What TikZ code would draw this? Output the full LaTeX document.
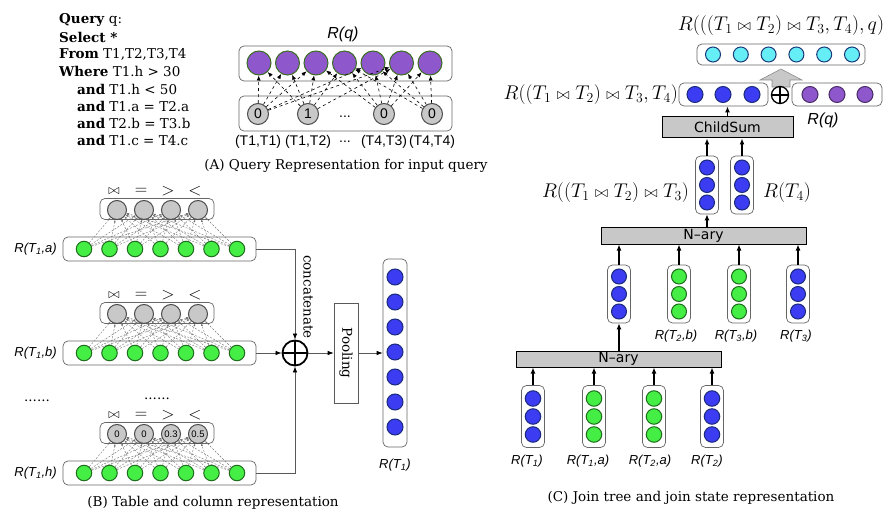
\documentclass[tikz,border=0pt]{standalone}
\usepackage[no-math]{fontspec}
\usepackage{graphicx}
\setmainfont{DejaVu Serif}
\setsansfont{Liberation Sans}
\newfontfamily\dvsans{DejaVu Sans}
\usetikzlibrary{arrows.meta}
\definecolor{cpurple}{HTML}{8F57CC}
\definecolor{cpurpleb}{HTML}{3B6E22}
\definecolor{cgray}{HTML}{C8C8C8}
\definecolor{cgreen}{HTML}{44EE44}
\definecolor{cgreenb}{HTML}{1E6E1E}
\definecolor{cblue}{HTML}{3C3CF2}
\definecolor{cblueb}{HTML}{1A2A7A}
\definecolor{ccyan}{HTML}{66EEF6}
\definecolor{ccyanb}{HTML}{1A3A7A}
\newcommand{\jn}{\mathrel{\scalebox{0.8}{$\bowtie$}}}
\newcommand{\mlab}[1]{\scalebox{0.957}{$#1$}}
\begin{document}
\begin{tikzpicture}[x=1pt,y=-1pt,
  rowbox/.style={draw=black!60, line width=0.7pt, rounded corners=5pt, fill=white, inner sep=0pt},
  nd/.style={circle, inner sep=0pt, line width=1pt},
  purp/.style={nd, fill=cpurple, draw=cpurpleb, minimum size=24pt},
  grayc/.style={nd, fill=cgray, draw=black!70, minimum size=21pt, font=\sffamily\fontsize{14}{14}\selectfont},
  greenc/.style={nd, fill=cgreen, draw=cgreenb, minimum size=15.5pt},
  bluec/.style={nd, fill=cblue, draw=cblueb, minimum size=16pt},
  cyanc/.style={nd, fill=ccyan, draw=ccyanb, minimum size=15pt},
  dasharr/.style={dashed, line width=0.6pt, -{Latex[length=5pt,width=4pt]}},
  thinarr/.style={dash pattern=on 2pt off 1.5pt, line width=0.4pt, draw=black!55, -{Latex[length=2.5pt,width=2pt]}},
  conn/.style={draw=black!65, line width=0.7pt, -{Latex[length=6pt,width=4.5pt,color=black]}},
  uparr/.style={line width=1.3pt, -{Latex[length=6pt,width=5pt]}},
  layer/.style={draw=black, line width=1pt, fill=cgray, font=\dvsans\fontsize{14}{14}\selectfont, inner sep=0pt},
  lab/.style={font=\sffamily\itshape\fontsize{13}{13}\selectfont, inner sep=0pt},
  bigl/.style={font=\sffamily\itshape\fontsize{16}{16}\selectfont, inner sep=0pt},
  tw/.style={font=\fontsize{13.5}{15}\selectfont, inner sep=0pt},
  qt/.style={font=\fontsize{13.5}{15}\selectfont, inner sep=0pt, anchor=west},
  sl/.style={font=\sffamily\fontsize{14}{14}\selectfont, inner sep=0pt},
  opl/.style={font=\fontsize{16}{16}\selectfont, inner sep=0pt},
  mathl/.style={font=\fontsize{20.74}{22}\selectfont, inner sep=0pt},
  oplus/.style={circle, draw, line width=1.8pt, minimum size=25pt, inner sep=0pt,
    path picture={\draw[line width=1.8pt] (path picture bounding box.north) -- (path picture bounding box.south)
      (path picture bounding box.west) -- (path picture bounding box.east);}},
]
\useasboundingbox (0,0) rectangle (895,524);

% ---------------- Panel A ----------------
\node[qt] (q1) at (59,20) {\textbf{Query} q:};
\node[qt] (q2) at (59,37) {\textbf{Select *}};
\node[qt] (q3) at (59,54) {\textbf{From} T1,T2,T3,T4};
\node[qt] (q4) at (59,71) {\textbf{Where} T1.h > 30};
\node[qt] (q5) at (77,89) {\textbf{and} T1.h < 50};
\node[qt] (q6) at (77,106) {\textbf{and} T1.a = T2.a};
\node[qt] (q7) at (77,123) {\textbf{and} T2.b = T3.b};
\node[qt] (q8) at (77,140) {\textbf{and} T1.c = T4.c};

\node[bigl] (Rq) at (343,34) {R(q)};
\node[rowbox, minimum width=213pt, minimum height=35pt] (Atop) at (345.5,63.5) {};
\foreach \i in {1,...,7} \node[purp] (At\i) at ({259+28.5*(\i-1)},63) {};
\node[rowbox, minimum width=213pt, minimum height=35pt] (Abot) at (345.5,113.5) {};
\foreach \i/\x/\v in {1/258/0,2/308/1,3/384/0,4/432/0} \node[grayc] (Ab\i) at (\x,114) {\v};
\node[sl] (Adots) at (345,117) {...};
\foreach \i/\x/\s in {1/258/{(T1,T1)},2/308/{(T1,T2)},3/345/{...},4/384/{(T4,T3)},5/432/{(T4,T4)}}
  \node[sl] (Al\i) at (\x,142) {\s};
\foreach \b/\t in {1/1,1/2,1/3,1/5,1/6,2/1,2/2,2/3,2/4,2/6,3/3,3/4,3/5,3/6,3/7,4/4,4/5,4/6,4/7}
  \draw[dasharr] (Ab\b) -- (At\t);
\node[tw] (capA) at (346,166) {(A) Query Representation for input query};

% ---------------- Panel B ----------------
\foreach \g/\G/\c/\va/\vb/\vc/\vd in {1/249/a/{}/{}/{}/{},2/353/b/{}/{}/{}/{},3/473/h/0/0/0.3/0.5} {
  \node[rowbox, minimum width=114pt, minimum height=21pt] (Bk\g) at (157,{\G-40}) {};
  \foreach \j/\v in {1/\va,2/\vb,3/\vc,4/\vd}
    \node[grayc, minimum size=19pt, font=\sffamily\fontsize{9.5}{9.5}\selectfont] (Bk\g c\j) at ({117+27*(\j-1)},{\G-39}) {\v};
  \foreach \j/\s in {1/\jn,2/=,3/>,4/<}
    \node[opl] (Bop\g c\j) at ({114+27*(\j-1)},{\G-58}) {$\s$};
  \node[rowbox, minimum width=193pt, minimum height=24pt] (Bg\g) at (159.5,\G) {};
  \foreach \i in {1,...,7} \node[greenc] (Bg\g c\i) at ({84+25.5*(\i-1)},\G) {};
  \foreach \i in {1,...,7} \foreach \j in {1,...,4} \draw[thinarr] (Bg\g c\i) -- (Bk\g c\j);
  \node[lab, anchor=east] (Bl\g) at (57,\G) {R(T\textsubscript{1},\c)};
}
\node[tw] (Bd1) at (37,401) {......};
\node[tw] (Bd2) at (157,399) {......};
\node[oplus] (Bplus) at (295,353) {};
\draw[conn] (Bg1.east) -| (Bplus.north);
\draw[conn] (Bg2.east) -- (Bplus.west);
\draw[conn] (Bg3.east) -| (Bplus.south);
\node[tw, rotate=-90] (Bcat) at (308,297) {concatenate};
\node[tw, draw=black!65, line width=0.7pt, rotate=-90, minimum width=100pt, minimum height=24pt] (Bpool) at (346,353) {Pooling};
\node[rowbox, minimum width=24pt, minimum height=188pt] (BR) at (395,353) {};
\foreach \i in {1,...,7} \node[bluec] (BR\i) at (395,{277+25*(\i-1)}) {};
\draw[conn] (Bplus.east) -- (Bpool.south);
\draw[conn] (Bpool.north) -- (BR.west);
\node[lab] (BRl) at (395,465) {R(T\textsubscript{1})};
\node[tw] (capB) at (213,503) {(B) Table and column representation};

% ---------------- Panel C ----------------
\node[mathl] (Ctop) at (781,26) {\mlab{R(((T_1\jn T_2)\jn T_3,T_4),q)}};
\node[rowbox, minimum width=168pt, minimum height=21pt] (Ccy) at (781,54.5) {};
\foreach \i in {1,...,6} \node[cyanc] (Ccy\i) at ({713+27.8*(\i-1)},54.5) {};
\filldraw[fill=cgray, draw=black!45, line width=0.6pt] (772,87) -- (772,80) -- (760,80) -- (781,69) -- (802,80) -- (790,80) -- (790,87) -- cycle;
\node[rowbox, minimum width=89pt, minimum height=23pt] (Cjs) at (723.5,94.5) {};
\foreach \i/\x in {1/695,2/723,3/752} \node[bluec] (Cjs\i) at (\x,94.5) {};
\node[oplus, minimum size=17pt, line width=1.3pt] (Cplus) at (780,95) {};
\node[rowbox, minimum width=90pt, minimum height=23pt] (Cq) at (837,94.5) {};
\foreach \i/\x in {1/810,2/837,3/865} \node[purp, minimum size=16pt, draw=cpurple!50!black] (Cq\i) at (\x,94.5) {};
\node[mathl, anchor=east] (Cjsl) at (678,95) {\mlab{R((T_1\jn T_2)\jn T_3,T_4)}};
\node[bigl] (Cql) at (823,120) {R(q)};
\node[layer, minimum width=131pt, minimum height=21pt] (CS) at (727.5,127.5) {ChildSum};
\draw[uparr] (CS.north) -- (CS.north |- Cjs.south);

\foreach \i/\x in {1/707,2/742} {
  \node[rowbox, minimum width=23pt, minimum height=58pt] (CV\i) at (\x,185) {};
  \foreach \k in {1,2,3} \node[bluec, minimum size=15pt] (CV\i c\k) at (\x,{185+17.5*(\k-2)}) {};
  \draw[uparr] (CV\i.north) -- (CV\i.north |- CS.south);
}
\node[mathl, anchor=east] (CV1l) at (689,193) {\mlab{R((T_1\jn T_2)\jn T_3)}};
\node[mathl, anchor=west] (CV2l) at (763,193) {\mlab{R(T_4)}};
\node[layer, minimum width=205pt, minimum height=16pt] (CN2) at (703.5,236) {N–ary};
\draw[uparr] (CV1.south |- CN2.north) -- (CV1.south);

\foreach \i/\x/\f/\b in {1/619/cblue/cblueb,2/679/cgreen/cgreenb,3/739/cgreen/cgreenb,4/798/cblue/cblueb} {
  \node[rowbox, minimum width=23pt, minimum height=58pt] (CL\i) at (\x,294) {};
  \foreach \k in {1,2,3} \node[nd, fill=\f, draw=\b, minimum size=15pt] (CL\i c\k) at (\x,{294+17.5*(\k-2)}) {};
  \draw[uparr] (CL\i.north) -- (CL\i.north |- CN2.south);
}
\node[lab] (CL2l) at (676,336) {R(T\textsubscript{2},b)};
\node[lab] (CL3l) at (736,336) {R(T\textsubscript{3},b)};
\node[lab] (CL4l) at (796,336) {R(T\textsubscript{3})};
\node[layer, minimum width=205pt, minimum height=16pt] (CN1) at (618.5,359) {N–ary};
\draw[uparr] (CL1.south |- CN1.north) -- (CL1.south);

\foreach \i/\x/\f/\b in {1/533/cblue/cblueb,2/594/cgreen/cgreenb,3/654/cgreen/cgreenb,4/712/cblue/cblueb} {
  \node[rowbox, minimum width=23pt, minimum height=62pt] (CB\i) at (\x,416.5) {};
  \foreach \k in {1,2,3} \node[nd, fill=\f, draw=\b, minimum size=15.5pt] (CB\i c\k) at (\x,{416.5+18*(\k-2)}) {};
  \draw[uparr] (CB\i.north) -- (CB\i.north |- CN1.south);
}
\node[lab] (CB1l) at (527,461) {R(T\textsubscript{1})};
\node[lab] (CB2l) at (588,461) {R(T\textsubscript{1},a)};
\node[lab] (CB3l) at (650,461) {R(T\textsubscript{2},a)};
\node[lab] (CB4l) at (707,461) {R(T\textsubscript{2})};
\node[tw] (capC) at (691,498) {(C) Join tree and join state representation};
\end{tikzpicture}
\end{document}
